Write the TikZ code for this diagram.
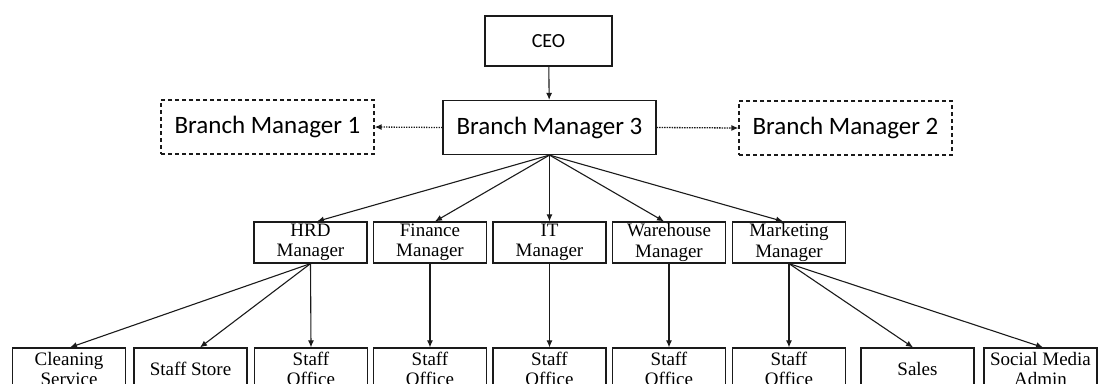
\documentclass[tikz,border=0pt]{standalone}
\usepackage{fontspec}
\setmainfont{Liberation Serif}
\newfontfamily\calib{Carlito}
\usetikzlibrary{arrows.meta}
\definecolor{ink}{HTML}{1A1A1A}
\tikzset{
  box/.style={draw=ink, line width=1.2pt, rectangle, inner sep=0pt, align=center, text=black},
  topbox/.style={box, minimum width=213pt, minimum height=54pt, font=\calib\fontsize{25}{28}\selectfont},
  branch/.style={topbox, dash pattern=on 4pt off 3pt},
  mgr/.style={box, minimum width=113pt, minimum height=41pt, font=\fontsize{19}{20.5}\selectfont},
  link/.style={draw=ink, line width=1.1pt, -{Latex[length=7pt,width=6pt]}},
  dotlink/.style={link, line width=1.3pt, dash pattern=on 1.4pt off 1.1pt}
}
\begin{document}
\begin{tikzpicture}[x=1pt, y=-1pt]
  \useasboundingbox (0,0) rectangle (1102,383);
  \clip (0,0) rectangle (1102,383);

  % executive level
  \node[box, minimum width=127pt, minimum height=50pt, font=\calib\fontsize{20}{22}\selectfont] (ceo) at (548.5,41) {CEO};
  \node[topbox] (bm3) at (549.5,127.5) {Branch Manager 3};
  \node[branch] (bm1) at (267.5,127) {Branch Manager 1};
  \node[branch] (bm2) at (845.5,128) {Branch Manager 2};

  % department managers
  \node[mgr] (hrd) at (310.5,242.5) {HRD\\Manager};
  \node[mgr] (fin) at (430,242.5) {Finance\\Manager};
  \node[mgr] (it)  at (549.5,242.5) {IT\\Manager};
  \node[mgr] (wh)  at (669,242.5) {Warehouse\\Manager};
  \node[mgr] (mkt) at (789,242.5) {Marketing\\Manager};

  % staff units
  \node[mgr, minimum height=42pt] (clean) at (69,369) {Cleaning\\Service};
  \node[mgr, minimum height=42pt] (store) at (190.5,369) {Staff Store};
  \node[mgr, minimum height=42pt] (offA)  at (311,369) {Staff\\Office};
  \node[mgr, minimum height=42pt] (offB)  at (430,369) {Staff\\Office};
  \node[mgr, minimum height=42pt] (offC)  at (549.5,369) {Staff\\Office};
  \node[mgr, minimum height=42pt] (offD)  at (669,369) {Staff\\Office};
  \node[mgr, minimum height=42pt] (offE)  at (789,369) {Staff\\Office};
  \node[mgr, minimum height=42pt] (sales) at (917.5,369) {Sales};
  \node[mgr, minimum height=42pt] (smm)   at (1040.5,369) {Social Media\\Admin};

  % reporting lines
  \draw[link] (ceo) -- (bm3);
  \draw[dotlink] (bm3.west) -- (bm1.east);
  \draw[dotlink] (bm3.east) -- (bm2.west);

  \draw[link] (bm3.south) -- ([xshift=6.5pt]hrd.north);
  \draw[link] (bm3.south) -- ([xshift=5pt]fin.north);
  \draw[link] (bm3.south) -- (it.north);
  \draw[link] (bm3.south) -- ([xshift=-5pt]wh.north);
  \draw[link] (bm3.south) -- ([xshift=-6pt]mkt.north);

  \draw[link] (hrd.south) -- ([xshift=1pt]clean.north);
  \draw[link] (hrd.south) -- ([xshift=9.5pt]store.north);
  \draw[link] (hrd.south) -- (offA.north);
  \draw[link] (fin.south) -- (offB.north);
  \draw[link] (it.south) -- (offC.north);
  \draw[link] (wh.south) -- (offD.north);
  \draw[link] (mkt.south) -- (offE.north);
  \draw[link] (mkt.south) -- ([xshift=-4.5pt]sales.north);
  \draw[link] (mkt.south) -- ([xshift=2.5pt]smm.north);
\end{tikzpicture}
\end{document}
